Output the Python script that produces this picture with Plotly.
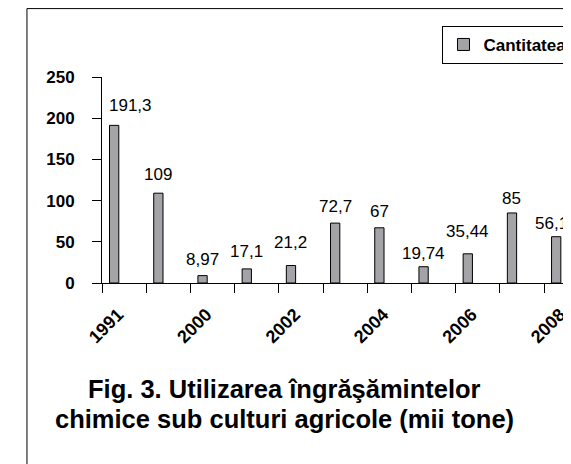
import plotly.graph_objects as go

# Data (mii tone)
years = ["1991", "1995", "2000", "2001", "2002", "2003", "2004", "2005", "2006", "2007", "2008"]
quantity = [191.3, 109, 8.97, 17.1, 21.2, 72.7, 67, 19.74, 35.44, 85, 56.18]
# only every other year is labelled on the axis
year_labels = ["1991", "", "2000", "", "2002", "", "2004", "", "2006", "", "2008"]

# caption lines
caption = ["Fig. 3. Utilizarea îngrăşămintelor",
           "chimice sub culturi agricole (mii tone)"]

# small hand nudges of the value labels, like in the original (px)
label_dy = [8, 7, 5, 6, 12, 5, 5, 2, 11, 3, 2]
label_dx = [16, 0, 0, 0, 0, 0, 0, 0, 0, 0, 0]

FONT = "Liberation Sans, Arial, sans-serif"
BAR_GREY = "#a3a3a8"

fig = go.Figure()

fig.add_trace(
    go.Bar(
        x=years,
        y=quantity,
        name="Cantitatea",
        width=0.21,
        offset=-0.33,
        marker=dict(color=BAR_GREY, line=dict(color="black", width=1)),
        hoverinfo="x+y",
    )
)

# value labels with decimal comma (x given as category index)
for i, (val, dy, dx) in enumerate(zip(quantity, label_dy, label_dx)):
    fig.add_annotation(
        x=i, y=val,
        text=f"{val:g}".replace(".", ","),
        showarrow=False,
        xanchor="center", yanchor="bottom",
        xshift=-10 + dx, yshift=dy,
        font=dict(family=FONT, size=17, color="black"),
    )

# caption under the chart, one annotation per line
for line, ypos in zip(caption, [-0.437, -0.583]):
    fig.add_annotation(
        xref="paper", yref="paper",
        x=0.39, y=ypos,
        xanchor="center", yanchor="top",
        text=line,
        showarrow=False,
        font=dict(family=FONT, size=25.5, color="black", weight="bold"),
    )

# outer frame (right/bottom sides fall outside the picture)
fig.add_shape(
    type="rect", xref="paper", yref="paper",
    x0=-0.16, x1=1.2, y0=-1.5, y1=1.332,
    line=dict(color="black", width=1),
    layer="below",
)

# the page body adds an 8px offset, so the figure is 8px smaller each way
fig.update_layout(
    width=563,
    height=456,
    margin=dict(l=94, r=0, t=69, b=181, autoexpand=False),
    paper_bgcolor="white",
    plot_bgcolor="white",
    showlegend=True,
    legend=dict(
        x=0.726, y=1.248,
        xanchor="left", yanchor="top",
        bordercolor="black", borderwidth=1,
        bgcolor="white",
        font=dict(family=FONT, size=17, color="black", weight="bold"),
    ),
    font=dict(family=FONT, color="black"),
)

fig.update_xaxes(
    type="category",
    range=[-0.5, 10.11],
    tickmode="array",
    tickvals=years,
    ticktext=year_labels,
    tickson="boundaries",
    ticks="outside",
    ticklen=9,
    tickcolor="black",
    tickangle=-45,
    ticklabelstandoff=13,
    ticklabelshift=-6,
    tickfont=dict(family=FONT, size=18, color="black", weight="bold"),
    showline=True,
    linecolor="black",
    linewidth=1,
    showgrid=False,
    zeroline=False,
    automargin=False,
)

fig.update_yaxes(
    range=[0, 250],
    tickmode="linear",
    tick0=0,
    dtick=50,
    ticks="outside",
    ticklen=9,
    tickcolor="black",
    ticklabelstandoff=14,
    tickfont=dict(family=FONT, size=17, color="black", weight="bold"),
    showline=True,
    linecolor="black",
    linewidth=1,
    showgrid=False,
    zeroline=False,
    automargin=False,
)

fig.write_html("out.html")
